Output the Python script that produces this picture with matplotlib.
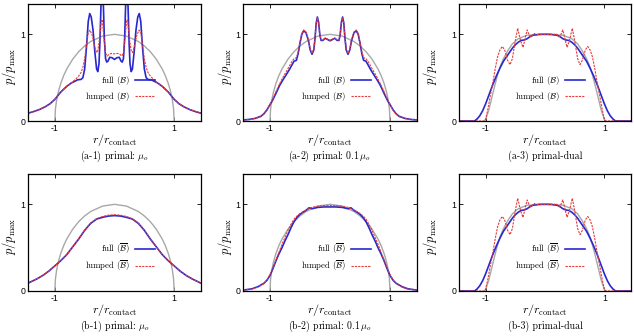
import numpy as np
import matplotlib
matplotlib.use("Agg")
import matplotlib.pyplot as plt

plt.rcParams["mathtext.fontset"] = "cm"
plt.rcParams["font.family"] = ["Liberation Sans", "DejaVu Sans"]

# --- data: half profiles (r >= 0), the curves are symmetric in r ---
# Hertz reference (grey) used in (a-1), (a-2), (b-1), (b-2)
r_hertz = [0, 0.2, 0.4, 0.5, 0.6, 0.7, 0.8, 0.85, 0.9, 0.94, 0.97, 0.99, 1.0]
p_hertz = [1.0, 0.98, 0.917, 0.866, 0.80, 0.714, 0.60, 0.527, 0.436, 0.341, 0.243, 0.141, 0.0]

# reference (grey) for primal-dual panels
r_ref_pd = [0, 0.3, 0.45, 0.55, 0.62, 0.70, 0.75, 0.80, 0.85, 0.90, 0.95, 1.0, 1.02]
p_ref_pd = [1.0, 0.99, 0.95, 0.89, 0.82, 0.72, 0.64, 0.53, 0.40, 0.26, 0.12, 0.02, 0.0]

# (a-1) primal: mu_o
r_a1_full = [0, 0.04, 0.08, 0.11, 0.13, 0.15, 0.17, 0.185, 0.20, 0.215, 0.23, 0.245, 0.26,
             0.28, 0.30, 0.33, 0.36, 0.39, 0.415, 0.44, 0.47, 0.50, 0.53, 0.56, 0.62,
             0.66, 0.72, 0.80, 0.90, 1.0, 1.08, 1.16, 1.25, 1.35, 1.45]
p_a1_full = [0.71, 0.73, 0.735, 0.69, 0.68, 0.72, 0.95, 1.30, 1.60, 1.60, 1.25, 0.90, 0.66,
             0.57, 0.60, 0.80, 1.05, 1.20, 1.24, 1.15, 0.85, 0.60, 0.50, 0.48, 0.475,
             0.46, 0.44, 0.40, 0.335, 0.25, 0.20, 0.165, 0.135, 0.11, 0.09]
r_a1_lump = [0, 0.05, 0.09, 0.12, 0.15, 0.18, 0.205, 0.22, 0.25, 0.28, 0.30, 0.33, 0.37,
             0.41, 0.44, 0.47, 0.50, 0.53, 0.56, 0.60, 0.64, 0.72, 0.80, 0.90, 1.0,
             1.08, 1.16, 1.25, 1.35, 1.45]
p_a1_lump = [0.775, 0.78, 0.77, 0.75, 0.78, 0.98, 1.17, 1.16, 0.95, 0.81, 0.79, 0.85, 0.98,
             1.05, 1.02, 0.88, 0.72, 0.62, 0.56, 0.52, 0.49, 0.44, 0.40, 0.335, 0.25,
             0.20, 0.165, 0.135, 0.11, 0.09]

# (a-2) primal: 0.1 mu_o
r_a2_full = [0, 0.04, 0.08, 0.12, 0.15, 0.17, 0.19, 0.21, 0.23, 0.25, 0.27, 0.30, 0.33,
             0.36, 0.40, 0.44, 0.47, 0.50, 0.53, 0.56, 0.60, 0.64, 0.68, 0.72, 0.78,
             0.84, 0.90, 0.96, 1.0, 1.05, 1.10, 1.15, 1.25, 1.35, 1.45]
p_a2_full = [0.925, 0.94, 0.955, 0.93, 0.93, 1.00, 1.14, 1.20, 1.13, 0.95, 0.82, 0.77, 0.82,
             0.93, 1.02, 1.04, 1.00, 0.90, 0.78, 0.70, 0.69, 0.64, 0.59, 0.545, 0.48,
             0.41, 0.32, 0.235, 0.19, 0.13, 0.085, 0.055, 0.03, 0.018, 0.012]
p_a2_lump = [0.93, 0.945, 0.955, 0.935, 0.935, 1.00, 1.13, 1.19, 1.13, 0.96, 0.83, 0.78, 0.83,
             0.94, 1.03, 1.05, 1.01, 0.91, 0.80, 0.73, 0.72, 0.68, 0.63, 0.58, 0.51,
             0.43, 0.34, 0.245, 0.19, 0.125, 0.08, 0.05, 0.028, 0.017, 0.012]

# (a-3) / (b-3) primal-dual
r_pd_full = [0, 0.10, 0.20, 0.25, 0.30, 0.35, 0.40, 0.45, 0.50, 0.55, 0.60, 0.66, 0.70,
             0.76, 0.82, 0.88, 0.94, 1.0, 1.05, 1.10, 1.15, 1.19, 1.45]
p_pd_full = [1.0, 1.0, 0.99, 0.975, 0.95, 0.935, 0.93, 0.91, 0.88, 0.84, 0.79, 0.73, 0.69,
             0.61, 0.52, 0.42, 0.31, 0.20, 0.12, 0.06, 0.02, 0.0, 0.0]
r_pd_lump = [0, 0.10, 0.15, 0.18, 0.21, 0.24, 0.27, 0.30, 0.33, 0.37, 0.41, 0.46, 0.50,
             0.55, 0.59, 0.63, 0.68, 0.72, 0.76, 0.80, 0.84, 0.88, 0.92, 0.96, 1.0,
             1.02, 1.45]
p_pd_lump = [1.0, 1.0, 0.995, 1.01, 0.99, 0.97, 1.0, 1.05, 0.97, 0.85, 0.92, 1.07, 0.93,
             0.72, 0.65, 0.70, 0.82, 0.86, 0.82, 0.74, 0.60, 0.44, 0.30, 0.15, 0.02,
             0.0, 0.0]

# (b-1) primal: mu_o
r_b1 = [0, 0.10, 0.20, 0.30, 0.40, 0.50, 0.60, 0.70, 0.80, 0.90, 1.0, 1.10, 1.20, 1.30, 1.45]
p_b1_full = [0.87, 0.865, 0.85, 0.83, 0.78, 0.70, 0.60, 0.51, 0.42, 0.35, 0.29, 0.23, 0.18, 0.14, 0.09]
p_b1_lump = [0.88, 0.875, 0.86, 0.835, 0.785, 0.705, 0.605, 0.51, 0.42, 0.35, 0.29, 0.23, 0.18, 0.14, 0.09]

# (b-2) primal: 0.1 mu_o
r_b2 = [0, 0.10, 0.20, 0.30, 0.35, 0.40, 0.45, 0.50, 0.55, 0.60, 0.65, 0.70, 0.75,
        0.80, 0.85, 0.90, 0.95, 1.0, 1.05, 1.10, 1.20, 1.30, 1.45]
p_b2_full = [0.97, 0.97, 0.965, 0.95, 0.96, 0.93, 0.91, 0.885, 0.85, 0.80, 0.73, 0.65, 0.58,
             0.50, 0.43, 0.35, 0.26, 0.18, 0.125, 0.09, 0.05, 0.025, 0.01]
p_b2_lump = [0.985, 0.985, 0.98, 0.965, 0.95, 0.935, 0.915, 0.895, 0.865, 0.83, 0.77, 0.70, 0.62,
             0.54, 0.45, 0.36, 0.27, 0.19, 0.13, 0.085, 0.045, 0.022, 0.01]

captions = [r"(a-1) primal: $\mu_o$", r"(a-2) primal: $0.1\,\mu_o$", "(a-3) primal-dual",
            r"(b-1) primal: $\mu_o$", r"(b-2) primal: $0.1\,\mu_o$", "(b-3) primal-dual"]


def mirror(r, p):
    r = np.asarray(r, float)
    p = np.asarray(p, float)
    return np.concatenate([-r[:0:-1], r]), np.concatenate([p[:0:-1], p])


panels = [
    (r_hertz, p_hertz, r_a1_full, p_a1_full, r_a1_lump, p_a1_lump),
    (r_hertz, p_hertz, r_a2_full, p_a2_full, r_a2_full, p_a2_lump),
    (r_ref_pd, p_ref_pd, r_pd_full, p_pd_full, r_pd_lump, p_pd_lump),
    (r_hertz, p_hertz, r_b1, p_b1_full, r_b1, p_b1_lump),
    (r_hertz, p_hertz, r_b2, p_b2_full, r_b2, p_b2_lump),
    (r_ref_pd, p_ref_pd, r_pd_full, p_pd_full, r_pd_lump, p_pd_lump),
]

fig = plt.figure(figsize=(6.34, 3.36), dpi=100)
lefts = [28, 243, 459]
widths = [173, 174, 172]
tops = [4, 174]
ylab_off = [-0.108, -0.103, -0.169]

for i, (rg, pg, rf, pf, rl, pl) in enumerate(panels):
    row, col = divmod(i, 3)
    ax = fig.add_axes([lefts[col] / 634, 1 - (tops[row] + 117) / 336, widths[col] / 634, 117 / 336])
    x, y = mirror(rg, pg)
    ax.plot(x, y, color="#a8a8a8", lw=1.0)
    bname = r"\mathcal{B}" if row == 0 else r"\overline{\mathcal{B}}"
    x, y = mirror(rf, pf)
    ax.plot(x, y, color="#2828d0", lw=1.2, label="full ($%s$)" % bname)
    x, y = mirror(rl, pl)
    ax.plot(x, y, color="#e83a3a", lw=0.8, dashes=(2.0, 1.0), label="lumped ($%s$)" % bname)

    ax.set_xlim(-1.45, 1.45)
    ax.set_ylim(0, 1.35)
    ax.set_xticks([-1, 1])
    ax.set_xticklabels(["-1", "1"])
    ax.set_yticks([0, 1])
    ax.tick_params(direction="in", top=True, right=True, length=3, width=0.6,
                   labelsize=6.3, pad=2)
    for s in ax.spines.values():
        s.set_linewidth(0.9)

    ax.legend(loc="lower right", bbox_to_anchor=(0.76, 0.115), frameon=False,
              markerfirst=False, handlelength=2.3, handletextpad=0.6,
              labelspacing=0.35, borderpad=0, prop={"family": "cmr10", "size": 6.3})
    ax.text(ylab_off[col], 0.47, r"$p/p_\mathrm{max}$", transform=ax.transAxes,
            rotation=90, ha="center", va="center", fontsize=9)
    ax.text(0.5, -0.165, r"$r/r_\mathrm{contact}$", transform=ax.transAxes,
            ha="center", va="center", fontsize=8.7)
    ax.text(0.5, -0.30, captions[i], transform=ax.transAxes, ha="center",
            va="center", fontsize=7.1, family="cmr10")

fig.savefig("out.png", dpi=100)
